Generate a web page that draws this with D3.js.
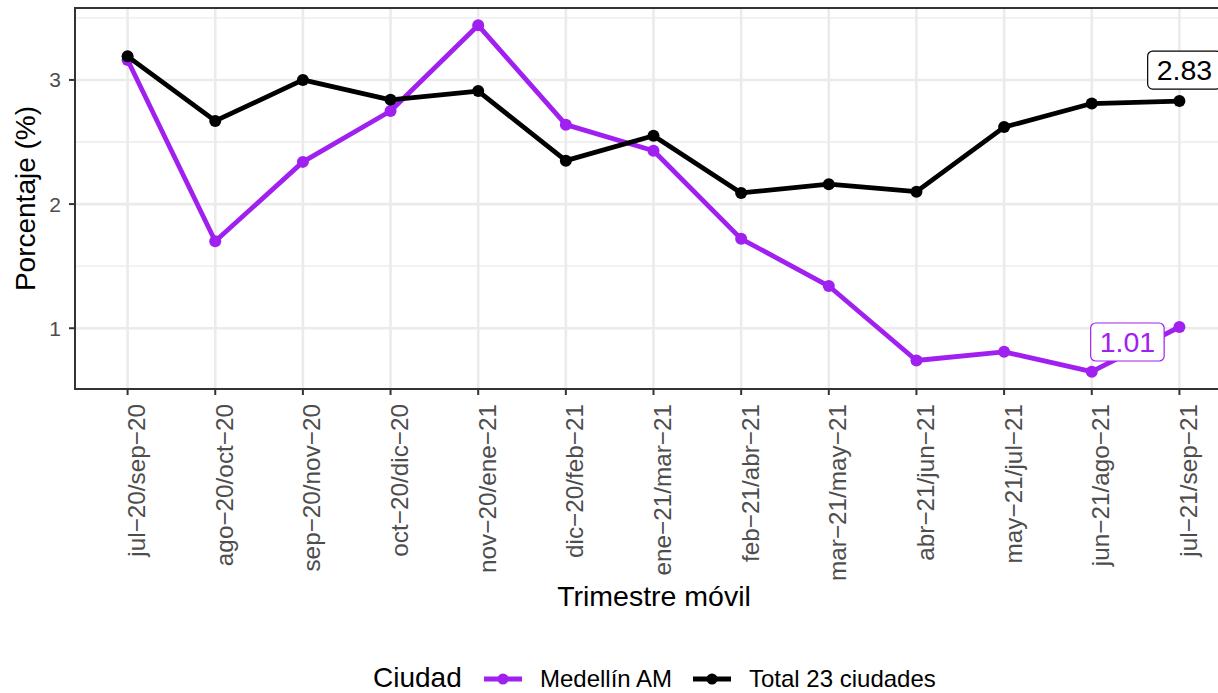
<!DOCTYPE html>
<html>
<head>
<meta charset="utf-8">
<script src="https://cdn.jsdelivr.net/npm/d3@7"></script>
<style>
  body { margin: 0; background: #fff; }
  svg { font-family: "Liberation Sans", Arial, sans-serif; display: block; }
</style>
</head>
<body>
<svg id="chart" width="1218" height="693"></svg>
<script>
// trimestres moviles
var trimestres = ["jul\u221220/sep\u221220", "ago\u221220/oct\u221220", "sep\u221220/nov\u221220", "oct\u221220/dic\u221220",
  "nov\u221220/ene\u221221", "dic\u221220/feb\u221221", "ene\u221221/mar\u221221", "feb\u221221/abr\u221221",
  "mar\u221221/may\u221221", "abr\u221221/jun\u221221", "may\u221221/jul\u221221", "jun\u221221/ago\u221221", "jul\u221221/sep\u221221"];
var medellin = [3.16, 1.70, 2.34, 2.75, 3.44, 2.64, 2.43, 1.72, 1.34, 0.74, 0.81, 0.65, 1.01];
var total23 = [3.19, 2.67, 3.00, 2.84, 2.91, 2.35, 2.55, 2.09, 2.16, 2.10, 2.62, 2.81, 2.83];
var yTicks = [1, 2, 3];
var yMinor = [0.5, 1.5, 2.5, 3.5];

var series = [
  { name: "Medellín AM", values: medellin, color: "#A020F0" },
  { name: "Total 23 ciudades", values: total23, color: "#000000" }
];

var svg = d3.select("#chart");
var pL = 75, pR = 1232, pT = 8, pB = 389;

var x = d3.scalePoint().domain(trimestres).range([pL, pR]).padding(0.6);
var allv = medellin.concat(total23);
var lo = d3.min(allv), hi = d3.max(allv), ex = (hi - lo) * 0.05;
var y = d3.scaleLinear().domain([lo - ex, hi + ex]).range([pB, pT]);

// grid
svg.append("g").selectAll("line").data(yMinor.filter(function(v){ return v > lo - ex && v < hi + ex; }))
  .enter().append("line")
  .attr("x1", pL).attr("x2", pR)
  .attr("y1", function(d){ return y(d); }).attr("y2", function(d){ return y(d); })
  .attr("stroke", "#EBEBEB").attr("stroke-width", 1.3);
svg.append("g").selectAll("line").data(yTicks).enter().append("line")
  .attr("x1", pL).attr("x2", pR)
  .attr("y1", function(d){ return y(d); }).attr("y2", function(d){ return y(d); })
  .attr("stroke", "#EBEBEB").attr("stroke-width", 2.6);
svg.append("g").selectAll("line").data(trimestres).enter().append("line")
  .attr("y1", pT).attr("y2", pB)
  .attr("x1", function(d){ return x(d); }).attr("x2", function(d){ return x(d); })
  .attr("stroke", "#EBEBEB").attr("stroke-width", 2.6);

// lines
var line = d3.line().x(function(d, i){ return x(trimestres[i]); }).y(function(d){ return y(d); });
series.forEach(function(s) {
  svg.append("path").datum(s.values)
    .attr("d", line).attr("fill", "none")
    .attr("stroke", s.color).attr("stroke-width", 4.8).attr("stroke-linejoin", "round");
  svg.append("g").selectAll("circle").data(s.values).enter().append("circle")
    .attr("cx", function(d, i){ return x(trimestres[i]); })
    .attr("cy", function(d){ return y(d); })
    .attr("r", 6).attr("fill", s.color);
});

// labels at last point
var last = trimestres.length - 1;
function addLabel(val, color, dx, dy) {
  var cx = x(trimestres[last]) + dx, cy = y(val) + dy;
  var g = svg.append("g");
  var t = g.append("text").attr("x", cx).attr("y", cy)
    .attr("text-anchor", "middle").attr("dominant-baseline", "central")
    .attr("font-size", 28.5).attr("fill", color).text(val.toFixed(2));
  var bb = t.node().getBBox();
  g.insert("rect", "text")
    .attr("x", bb.x - 9).attr("y", cy - 19).attr("width", bb.width + 18).attr("height", 38)
    .attr("rx", 5).attr("fill", "#fff").attr("stroke", color).attr("stroke-width", 1.2);
}
addLabel(total23[last], "#000000", 5, -31);
addLabel(medellin[last], "#A020F0", -52, 15);

// panel border
svg.append("rect").attr("x", pL).attr("y", pT).attr("width", pR - pL).attr("height", pB - pT)
  .attr("fill", "none").attr("stroke", "#333333").attr("stroke-width", 2);

// y axis
var ya = svg.append("g");
yTicks.forEach(function(v) {
  ya.append("line").attr("x1", pL - 6).attr("x2", pL).attr("y1", y(v)).attr("y2", y(v))
    .attr("stroke", "#333333").attr("stroke-width", 2);
  ya.append("text").attr("x", pL - 14).attr("y", y(v)).attr("text-anchor", "end")
    .attr("dominant-baseline", "central").attr("font-size", 21).attr("fill", "#4D4D4D").text(v);
});

// x axis
var xa = svg.append("g");
trimestres.forEach(function(c) {
  xa.append("line").attr("x1", x(c)).attr("x2", x(c)).attr("y1", pB).attr("y2", pB + 6)
    .attr("stroke", "#333333").attr("stroke-width", 2);
  xa.append("text").attr("transform", "translate(" + (x(c) + 17.5) + "," + (pB + 15) + ") rotate(-90)")
    .attr("text-anchor", "end")
    .attr("font-size", 24.3).attr("fill", "#4D4D4D").text(c);
});

// titles
svg.append("text").attr("x", 654).attr("y", 606).attr("text-anchor", "middle")
  .attr("font-size", 28.5).attr("fill", "#000").text("Trimestre móvil");
svg.append("text").attr("transform", "translate(35," + ((pT + pB) / 2) + ") rotate(-90)")
  .attr("text-anchor", "middle").attr("font-size", 28).attr("fill", "#000").text("Porcentaje (%)");

// legend
var lg = svg.append("g");
lg.append("text").attr("x", 373).attr("y", 687).attr("font-size", 28).text("Ciudad");
var lx = [484, 693];
series.forEach(function(s, i) {
  lg.append("line").attr("x1", lx[i]).attr("x2", lx[i] + 38).attr("y1", 679).attr("y2", 679)
    .attr("stroke", s.color).attr("stroke-width", 5);
  lg.append("circle").attr("cx", lx[i] + 19).attr("cy", 679).attr("r", 5.5).attr("fill", s.color);
  lg.append("text").attr("x", lx[i] + 56).attr("y", 687).attr("font-size", 24).text(s.name);
});
</script>
</body>
</html>
